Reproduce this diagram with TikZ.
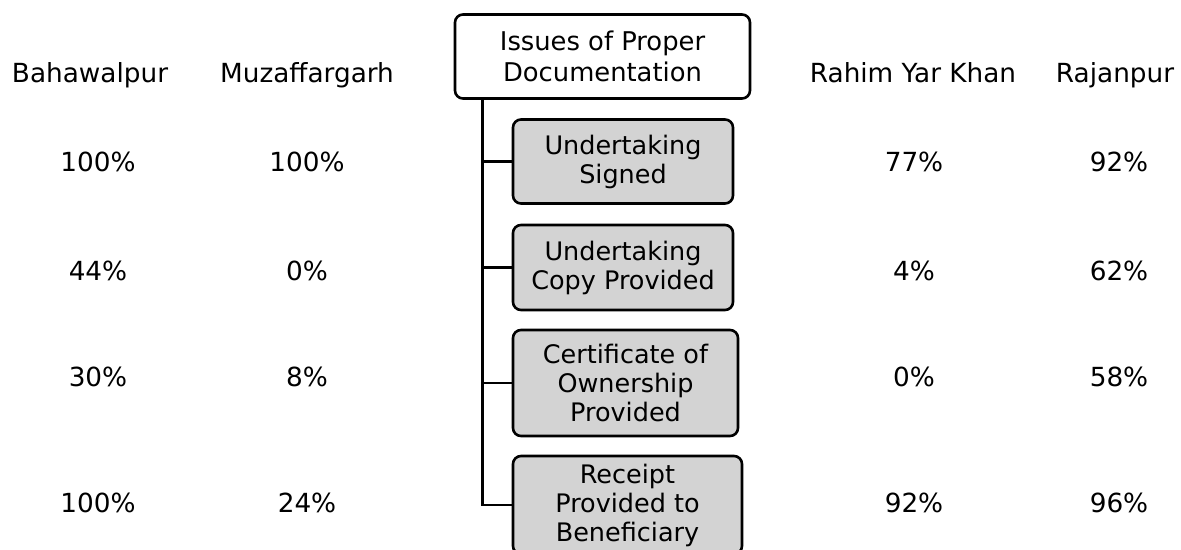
\documentclass[tikz,border=0pt]{standalone}
\usepackage{fontspec}
\setmainfont{DejaVu Sans}
\usetikzlibrary{calc}
\definecolor{boxgray}{HTML}{D3D3D3}
\tikzset{
  lbl/.style={anchor=base,font=\fontsize{26.3}{30}\selectfont,inner sep=0pt},
  topbox/.style={draw,line width=2.6pt,rounded corners=8pt,fill=white,align=center,
     font=\fontsize{25.8}{31}\selectfont,inner sep=0pt},
  itembox/.style={draw,line width=2.6pt,rounded corners=8pt,fill=boxgray,align=center,
     font=\fontsize{25.5}{29}\selectfont,inner sep=0pt},
  conn/.style={line width=2.6pt}
}
\begin{document}
\begin{tikzpicture}[x=1pt,y=-1pt]
\clip (0,0) rectangle (1181,549);
% title and items
\node[topbox,minimum width=295pt,minimum height=84pt] (top) at (602.5,56.5) {Issues of Proper\\Documentation};
\node[itembox,minimum width=220pt,minimum height=84pt] (b1) at (623,161.5) {Undertaking\\Signed};
\node[itembox,minimum width=220pt,minimum height=85pt] (b2) at (623,267.5) {Undertaking\\Copy Provided};
\node[itembox,minimum width=225pt,minimum height=106pt] (b3) at (625.5,383) {Certificate of\\Ownership\\Provided};
\node[itembox,minimum width=229pt,minimum height=98pt] (b4) at (627.5,505) {Receipt\\Provided to\\Beneficiary};
% connectors
\coordinate (sp) at ($(top.south west)+(29,0)$);
\draw[conn] (sp) |- (b4.west);
\foreach \b in {b1,b2,b3} { \draw[conn] (sp |- \b.west) -- (\b.west); }
% headers
\node[lbl] (h1) at (90,82) {Bahawalpur};
\node[lbl] (h2) at (307,82) {Muzaffargarh};
\node[lbl] (h3) at (913,82) {Rahim Yar Khan};
\node[lbl] (h4) at (1115,82) {Rajanpur};
% values
\node[lbl] (v11) at (98,171) {100\%};
\node[lbl] (v12) at (307,171) {100\%};
\node[lbl] (v13) at (914,171) {77\%};
\node[lbl] (v14) at (1119,171) {92\%};
\node[lbl] (v21) at (98,280) {44\%};
\node[lbl] (v22) at (307,280) {0\%};
\node[lbl] (v23) at (914,280) {4\%};
\node[lbl] (v24) at (1119,280) {62\%};
\node[lbl] (v31) at (98,386) {30\%};
\node[lbl] (v32) at (307,386) {8\%};
\node[lbl] (v33) at (914,386) {0\%};
\node[lbl] (v34) at (1119,386) {58\%};
\node[lbl] (v41) at (98,512) {100\%};
\node[lbl] (v42) at (307,512) {24\%};
\node[lbl] (v43) at (914,512) {92\%};
\node[lbl] (v44) at (1119,512) {96\%};
\end{tikzpicture}
\end{document}
